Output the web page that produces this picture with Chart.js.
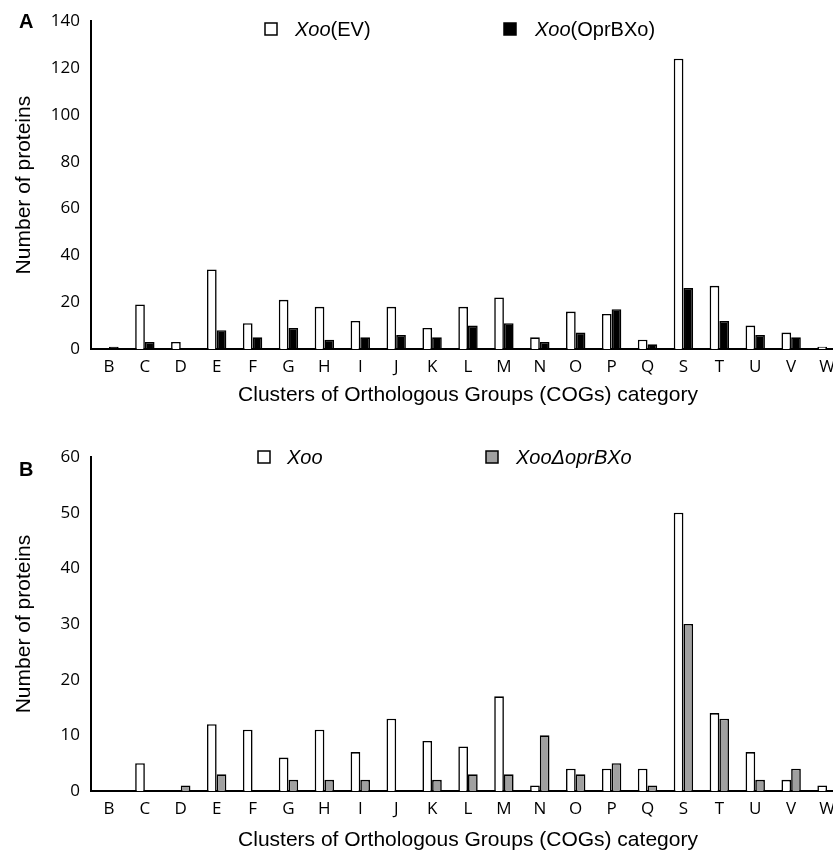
<!DOCTYPE html>
<html>
<head>
<meta charset="utf-8">
<script src="https://cdn.jsdelivr.net/npm/chart.js@4/dist/chart.umd.min.js"></script>
<style>
  html, body { margin: 0; padding: 0; background: #fff; overflow: hidden; }
  #wrapA { position: absolute; left: 0; top: 0; width: 845px; height: 420px; }
  #wrapB { position: absolute; left: 0; top: 420px; width: 845px; height: 433px; }
</style>
</head>
<body>
<div id="wrapA"><canvas id="chartA"></canvas></div>
<div id="wrapB"><canvas id="chartB"></canvas></div>
<script>
// COG categories (same for both panels)
const categories = ["B","C","D","E","F","G","H","I","J","K","L","M","N","O","P","Q","S","T","U","V","W"];

// panel A
const xooEV =      [0,19,3,34,11,21,18,12,18,9,18,22,5,16,15,4,124,27,10,7,1];
const xooOprBXo =  [1, 3,0, 8, 5, 9, 4, 5, 6,5,10,11,3, 7,17,2, 26,12, 6,5,0];
const ticksA = [0,20,40,60,80,100,120,140];

// panel B
const xooWT =      [0,5,0,12,11,6,11,7,13,9,8,17, 1,4,4,4,50,14,7,2,1];
const xooDelta =   [0,0,1, 3, 0,2, 2,2, 0,2,3, 3,10,3,5,1,30,13,2,4,0];
const ticksB = [0,10,20,30,40,50,60];

const tickFont = { family: "'Open Sans', sans-serif", size: 17 };
const titleFont = { family: "'Liberation Sans', Arial, sans-serif", size: 21 };

// legend + panel letter drawn by hand, legend text mixes italic and normal
function legendPlugin(letter, letterY, items) {
  return {
    id: "customLegend",
    afterDraw(chart) {
      const ctx = chart.ctx;
      ctx.save();
      ctx.textBaseline = "middle";
      ctx.font = "bold 20px 'Liberation Sans', Arial, sans-serif";
      ctx.fillStyle = "#000";
      ctx.fillText(letter, 19, letterY);
      items.forEach(it => {
        ctx.fillStyle = it.fill;
        ctx.fillRect(it.x, it.y - 6, 12, 12);
        ctx.strokeStyle = "#000";
        ctx.lineWidth = 1.5;
        ctx.strokeRect(it.x, it.y - 6, 12, 12);
        let x = it.tx;
        it.parts.forEach(p => {
          ctx.font = (p.italic ? "italic " : "") + "20px 'Liberation Sans', Arial, sans-serif";
          ctx.fillStyle = "#000";
          ctx.fillText(p.t, x, it.y + 1);
          x += ctx.measureText(p.t).width;
        });
      });
      ctx.restore();
    }
  };
}

function makeChart(id, d1, d2, fill2, ticks, maxY, top, xHeight, titlePad, plugin) {
  return new Chart(document.getElementById(id), {
    type: "bar",
    data: {
      labels: categories,
      datasets: [
        { data: d1, backgroundColor: "#ffffff", borderColor: "#000", borderWidth: 1.6 },
        { data: d2, backgroundColor: fill2, borderColor: "#000", borderWidth: 1.6 }
      ]
    },
    options: {
      responsive: true,
      maintainAspectRatio: false,
      animation: false,
      categoryPercentage: 0.54,
      barPercentage: 1,
      layout: { padding: { top: top, left: 0, right: 0, bottom: 0 } },
      plugins: { legend: { display: false }, tooltip: { enabled: false } },
      scales: {
        x: {
          grid: { display: false, drawTicks: false },
          border: { color: "#000", width: 2 },
          ticks: { color: "#000", font: tickFont, padding: 8, autoSkip: false, maxRotation: 0 },
          title: { display: true, text: "Clusters of Orthologous Groups (COGs) category",
                   color: "#000", font: titleFont, padding: { top: 0, bottom: titlePad } },
          afterFit(s) { s.height = xHeight; }
        },
        y: {
          min: 0, max: maxY,
          grid: { display: false, drawTicks: false },
          border: { color: "#000", width: 2 },
          afterBuildTicks(s) { s.ticks = ticks.map(v => ({ value: v })); },
          ticks: { color: "#000", font: tickFont, padding: 11 },
          title: { display: true, text: "Number of proteins", color: "#000",
                   font: { family: "'Liberation Sans', Arial, sans-serif", size: 21 },
                   padding: { top: 12, bottom: 0 } },
          afterFit(s) { s.width = 91; }
        }
      }
    },
    plugins: [plugin]
  });
}

makeChart("chartA", xooEV, xooOprBXo, "#000000", ticksA, 140, 20, 71, 12,
  legendPlugin("A", 22, [
    { x: 265, y: 29, fill: "#fff", tx: 295, parts: [{ t: "Xoo", italic: true }, { t: "(EV)" }] },
    { x: 504, y: 29, fill: "#000", tx: 535, parts: [{ t: "Xoo", italic: true }, { t: "(OprBXo)" }] }
  ]));

makeChart("chartB", xooWT, xooDelta, "#a0a0a0", ticksB, 60, 37, 62, 0,
  legendPlugin("B", 50, [
    { x: 258, y: 37, fill: "#fff", tx: 287, parts: [{ t: "Xoo", italic: true }] },
    { x: 486, y: 37, fill: "#a0a0a0", tx: 516, parts: [{ t: "XooΔoprBXo", italic: true }] }
  ]));
</script>
</body>
</html>
